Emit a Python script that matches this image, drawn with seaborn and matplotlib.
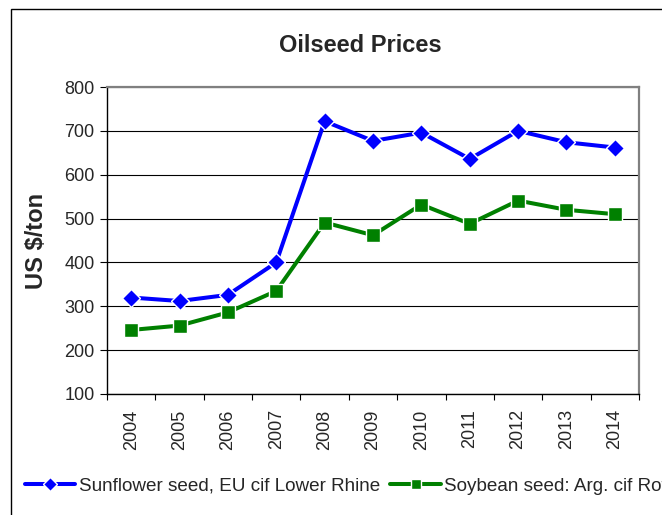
import pandas as pd
import seaborn as sns
import matplotlib.pyplot as plt
from matplotlib.patches import Rectangle
from matplotlib.ticker import MultipleLocator, FixedLocator

# Data
years = [2004, 2005, 2006, 2007, 2008, 2009, 2010, 2011, 2012, 2013, 2014]
sunflower = [320, 312, 326, 400, 722, 677, 696, 636, 700, 674, 662]
soybean = [246, 256, 286, 335, 491, 462, 532, 488, 541, 520, 510]

sunflower_label = "Sunflower seed, EU cif Lower Rhine"
soybean_label = "Soybean seed: Arg. cif Rotterdam"

sns.set_style("white")
plt.rcParams['font.family'] = ['Liberation Sans', 'DejaVu Sans']

fig = plt.figure(figsize=(6.62, 5.15), dpi=100)
ax = fig.add_axes([107/662, 1 - 394/515, 532/662, 307/515])

# outer chart frame (clipped at right / bottom like the source)
fig.patches.append(Rectangle((11/662, -0.2), 1.2, 1.2 - 9/515,
                             transform=fig.transFigure, fill=False,
                             edgecolor='black', linewidth=1.0))

df = pd.DataFrame({"year": years, "sun": sunflower, "soy": soybean})

sns.lineplot(data=df, x="year", y="sun", ax=ax, color="#0000FF", marker="D",
             markersize=9.5, markeredgewidth=1, linewidth=2.9,
             label=sunflower_label)
sns.lineplot(data=df, x="year", y="soy", ax=ax, color="#008000", marker="s",
             markersize=9.5, markeredgewidth=1, linewidth=2.9,
             label=soybean_label)

ax.set_xlim(2003.5, 2014.5)
ax.set_ylim(100, 800)
ax.yaxis.set_major_locator(MultipleLocator(100))
ax.xaxis.set_major_locator(FixedLocator(years))
ax.xaxis.set_minor_locator(FixedLocator([y - 0.5 for y in years] + [2014.5]))
ax.set_xticklabels([str(y) for y in years], rotation=90, fontsize=13)
ax.tick_params(axis='x', which='major', length=0, pad=11)
ax.tick_params(axis='x', which='minor', length=4.5, width=0.8, color='black',
               direction='out', bottom=True)
ax.tick_params(axis='y', length=5, width=0.8, color='black', direction='out',
               left=True, pad=4, labelsize=13)

ax.set_axisbelow(True)
ax.yaxis.grid(True, color='black', linewidth=0.8)
ax.xaxis.grid(False)

for side in ['left', 'bottom']:
    ax.spines[side].set_color('black')
    ax.spines[side].set_linewidth(1.0)
for side in ['top', 'right']:
    ax.spines[side].set_color('#808080')
    ax.spines[side].set_linewidth(1.6)

ax.set_xlabel("")
ax.set_ylabel("US $/ton", fontsize=17, fontweight='bold')
ax.yaxis.set_label_coords(-0.111, 0.5)

fig.text(360/662, 1 - 46/515, "Oilseed Prices", fontsize=17,
         fontweight='bold', ha='center', va='center')

handles, labels = ax.get_legend_handles_labels()
ax.get_legend().remove()
fig.legend(handles, labels, loc='center left',
           bbox_to_anchor=(25/662, 1 - 486/515), ncol=2, frameon=False,
           fontsize=13.6, handlelength=2.65, handletextpad=0.2,
           columnspacing=0.55, borderpad=0, borderaxespad=0,
           markerscale=0.8)

plt.savefig("out.png", dpi=100)
